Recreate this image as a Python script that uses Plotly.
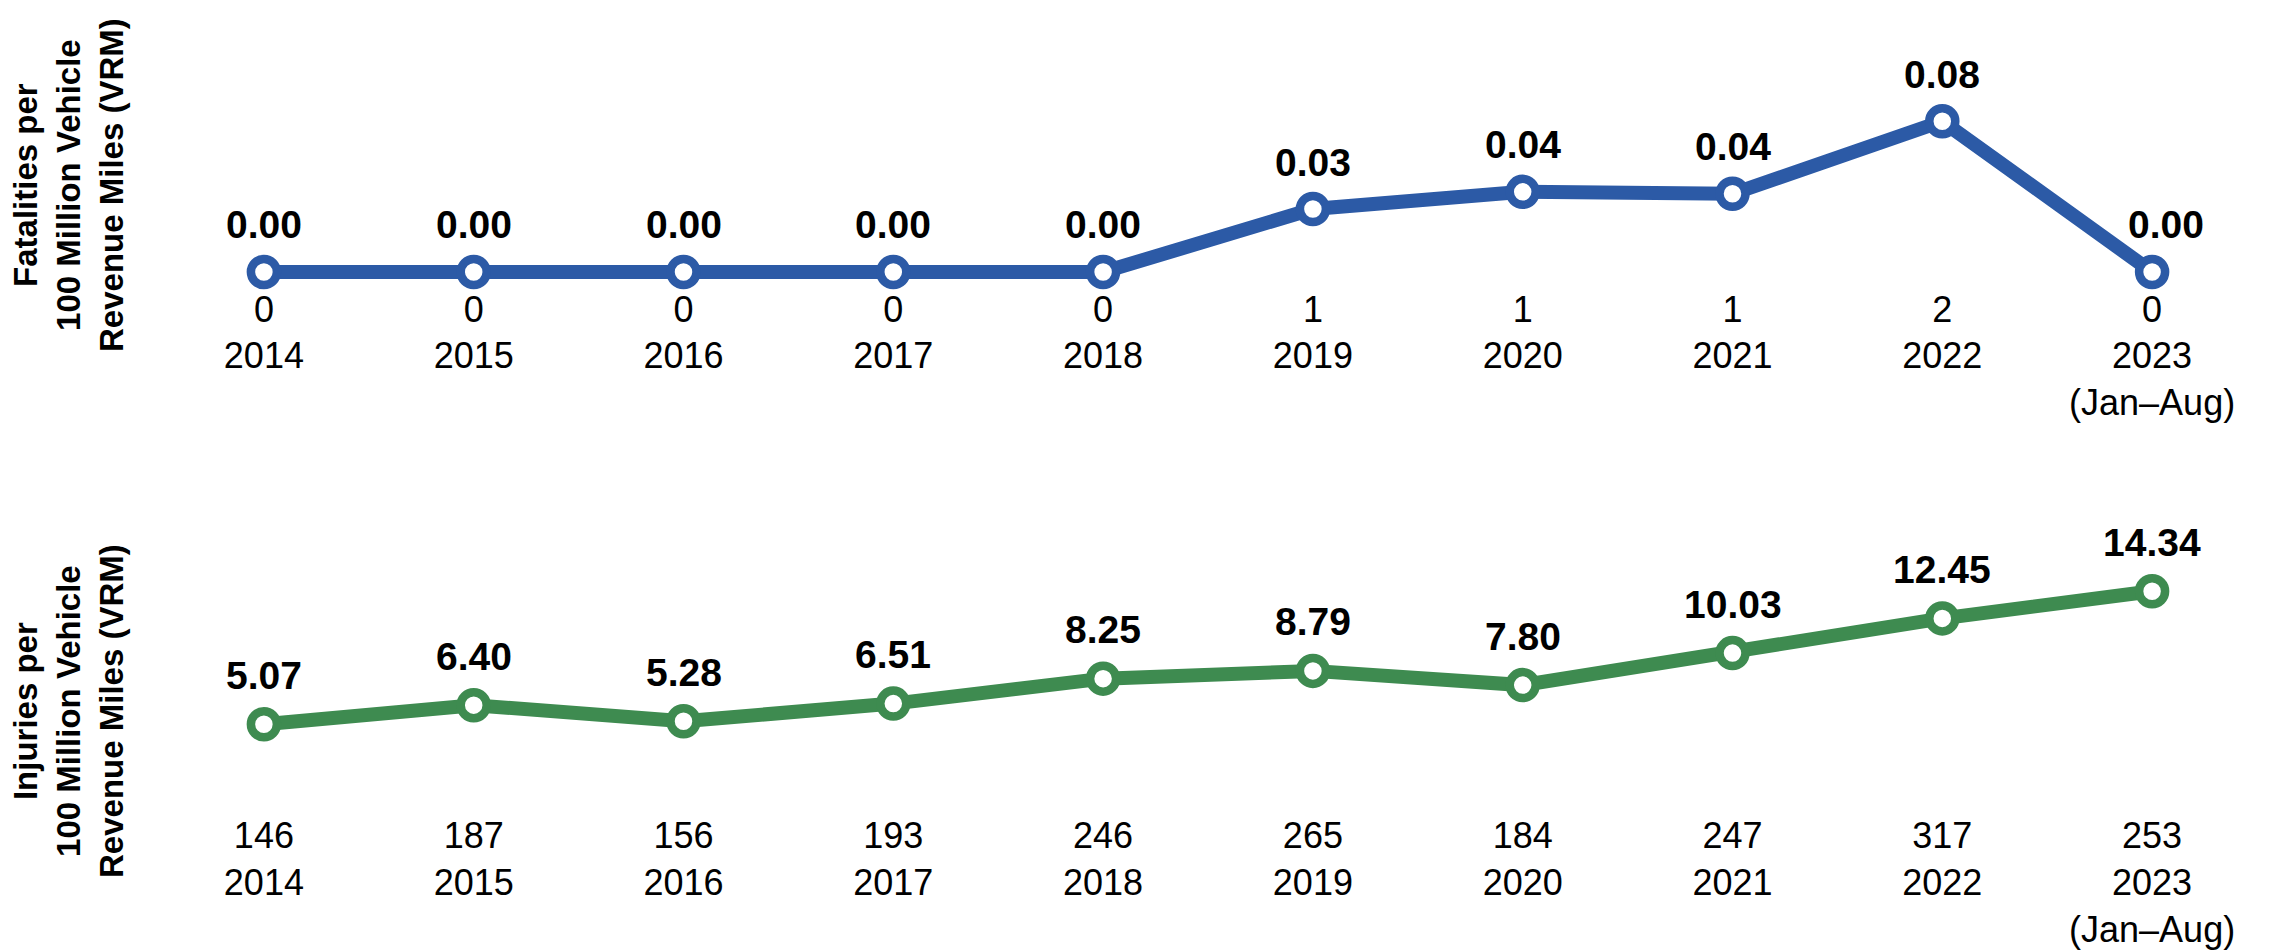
import plotly.graph_objects as go

years = ["2014", "2015", "2016", "2017", "2018", "2019", "2020", "2021", "2022", "2023<br>(Jan–Aug)"]
fatality_rate = [0.0, 0.0, 0.0, 0.0, 0.0, 0.033, 0.042, 0.041, 0.079, 0.0]
fatality_count = [0, 0, 0, 0, 0, 1, 1, 1, 2, 0]
injury_rate = [5.07, 6.40, 5.28, 6.51, 8.25, 8.79, 7.80, 10.03, 12.45, 14.34]
injury_count = [146, 187, 156, 193, 246, 265, 184, 247, 317, 253]

title_top = "Fatalities per<br>100 Million Vehicle<br>Revenue Miles (VRM)"
title_bottom = "Injuries per<br>100 Million Vehicle<br>Revenue Miles (VRM)"

BLUE = "#2C5AA6"
GREEN = "#3E8B50"
W, H = 2270, 950
ML, MR = 151, 21
PW = W - ML - MR

tick_font = dict(family="Liberation Sans, Arial, sans-serif", size=36, color="#000000")
label_font = dict(family="Liberation Sans, Arial, sans-serif", size=39, color="#000000", weight="bold")
title_font = dict(family="Liberation Sans, Arial, sans-serif", size=33, color="#000000", weight="bold")

xs = list(range(len(years)))

fig = go.Figure()
fig.add_trace(go.Scatter(
    x=xs, y=fatality_rate, mode="lines+markers", xaxis="x", yaxis="y",
    line=dict(color=BLUE, width=14),
    marker=dict(size=26, color="white", line=dict(color=BLUE, width=8.5)),
    cliponaxis=False, showlegend=False, hoverinfo="skip"))
fig.add_trace(go.Scatter(
    x=xs, y=injury_rate, mode="lines+markers", xaxis="x2", yaxis="y2",
    line=dict(color=GREEN, width=14),
    marker=dict(size=26, color="white", line=dict(color=GREEN, width=8.5)),
    cliponaxis=False, showlegend=False, hoverinfo="skip"))

annotations = []
last = len(fatality_rate) - 1
for i, v in enumerate(fatality_rate):
    annotations.append(dict(x=i, y=v, xref="x", yref="y", text=f"{v:.2f}", showarrow=False,
                            yshift=47, xshift=14 if i == last else 0,
                            font=label_font, xanchor="center", yanchor="middle"))
for i, v in enumerate(injury_rate):
    annotations.append(dict(x=i, y=v, xref="x2", yref="y2", text=f"{v:.2f}", showarrow=False,
                            yshift=49, font=label_font, xanchor="center", yanchor="middle"))

title_x = (60 - ML) / PW
annotations.append(dict(x=title_x, y=1 - 177 / H, xref="paper", yref="paper", text=title_top,
                        textangle=-90, showarrow=False, font=title_font, align="center",
                        xanchor="center", yanchor="middle"))
annotations.append(dict(x=title_x, y=1 - 703 / H, xref="paper", yref="paper", text=title_bottom,
                        textangle=-90, showarrow=False, font=title_font, align="center",
                        xanchor="center", yanchor="middle"))

xaxis_common = dict(range=[-0.5, len(years) - 0.5], showgrid=False, zeroline=False,
                    showline=False, ticks="", tickmode="array", tickvals=xs,
                    tickfont=tick_font, fixedrange=True)

top_k = 150 / 0.0786
bot_k = (724 - 591) / (14.34 - 5.07)

top_zero = 264
top_pad = 7.5
bot_zero = 789

fig.update_layout(
    width=W, height=H,
    margin=dict(l=ML, r=MR, t=0, b=0),
    paper_bgcolor="white", plot_bgcolor="white",
    xaxis=dict(**xaxis_common, anchor="y", ticklabelstandoff=5,
               ticktext=[f"{c}<br>{y}" for c, y in zip(fatality_count, years)]),
    xaxis2=dict(**xaxis_common, anchor="y2", ticklabelstandoff=14,
                ticktext=[f"{c}<br>{y}" for c, y in zip(injury_count, years)]),
    yaxis=dict(domain=[1 - (top_zero + top_pad) / H, 1 - 50 / H],
               range=[-top_pad / top_k, (top_zero - 50) / top_k], visible=False, fixedrange=True),
    yaxis2=dict(domain=[1 - bot_zero / H, 1 - 560 / H], range=[0, (bot_zero - 560) / bot_k],
                visible=False, fixedrange=True),
    annotations=annotations,
)

fig.write_html("out.html")
